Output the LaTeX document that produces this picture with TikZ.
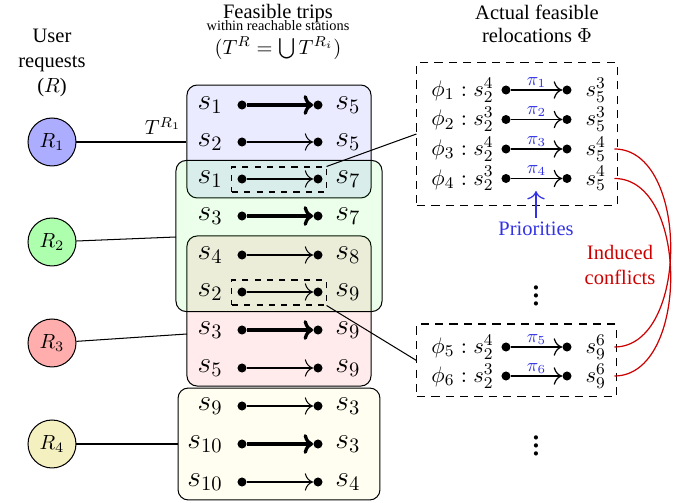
\documentclass[tikz,border=0pt]{standalone}
\usepackage[no-math]{fontspec}
\setmainfont{Liberation Serif}
\usetikzlibrary{calc,arrows.meta}

\definecolor{prioblue}{rgb}{0.2,0.2,0.9}
\definecolor{conflred}{rgb}{0.8,0,0}
\definecolor{reqyellow}{rgb}{0.96,0.94,0.75}

\tikzset{
  req/.style={circle,draw,line width=0.5pt,minimum size=23.4pt,inner sep=0pt},
  tripbox/.style={draw,line width=0.5pt,rounded corners=5pt,inner sep=0pt,fill opacity=0.08,draw opacity=1},
  selbox/.style={draw,dashed,line width=0.5pt,inner sep=0pt},
  relbox/.style={draw,dash pattern=on 4pt off 3pt,line width=0.5pt,inner sep=0pt},
  dot/.style={circle,fill,inner sep=0pt,minimum size=4.4pt},
  slab/.style={inner sep=1pt,font=\fontsize{14.4}{17}\selectfont},
  plab/.style={inner sep=1pt,font=\fontsize{11}{13}\selectfont},
  pilab/.style={above,inner sep=1pt,text=prioblue,font=\fontsize{9}{11}\selectfont},
  tripheavy/.style={line width=1.6pt,-{To[scale=0.9]}},
  triplight/.style={line width=0.5pt,-{To[scale=1.5]}},
  relarrow/.style={line width=0.6pt,-{To[scale=1.4]}},
  link/.style={line width=0.5pt},
  conflict/.style={conflred,line width=0.6pt},
}

\begin{document}
\begin{tikzpicture}[x=0.4878pt,y=-0.4878pt]
\useasboundingbox (0,0) rectangle (686,503);

% column headings
\node[align=center,font=\fontsize{10}{12}\selectfont] (hreq) at (52,63) {User\\requests\\($R$)};
\node (htripsA) at (278,14) {Feasible trips};
\node[font=\scriptsize] (htripsB) at (278,26) {within reachable stations};
\node (htripsC) at (278,48) {$(T^R=\bigcup T^{R_i})$};
\node (hrelA) at (537,12) {Actual feasible};
\node (hrelB) at (537,35) {relocations $\Phi$};

% user requests
\node[req,fill=blue!32] (R1) at (52,142) {$R_1$};
\node[req,fill=green!32] (R2) at (52,242) {$R_2$};
\node[req,fill=red!32] (R3) at (52,343) {$R_3$};
\node[req,fill=reqyellow] (R4) at (52,444) {$R_4$};

% sets of feasible trips, one per request
\node[tripbox,fill=blue,minimum width=89.8pt,minimum height=55.1pt] (box1) at (279,141.5) {};
\node[tripbox,fill=red,minimum width=89.8pt,minimum height=73.2pt] (box3) at (279,311) {};
\node[tripbox,fill=yellow,fill opacity=0.06,minimum width=98.5pt,minimum height=54.6pt] (box4) at (279,444) {};
\node[tripbox,fill=green,minimum width=100.5pt,minimum height=73.7pt] (box2) at (279,236) {};

% selected trips
\node[selbox,minimum width=45.9pt,minimum height=12.2pt] (sel1) at (279,179.5) {};
\node[selbox,minimum width=45.9pt,minimum height=12.2pt] (sel2) at (279,292.5) {};

% trips
\foreach \n/\y/\a/\b/\w in {1/105/1/5/tripheavy, 2/142/2/5/triplight, 3/179/1/7/triplight,
    4/216/3/7/tripheavy, 5/255/4/8/triplight, 6/292/2/9/triplight, 7/330/3/9/tripheavy,
    8/368/5/9/triplight, 9/406/9/3/triplight, 10/444/10/3/tripheavy, 11/482/10/4/triplight} {
  \node[slab,anchor=east] (tl\n) at (225,\y) {$s_{\a}$};
  \node[dot] (ta\n) at (242,\y) {};
  \node[dot] (tb\n) at (318,\y) {};
  \node[slab,anchor=west] (tr\n) at (333,\y) {$s_{\b}$};
  \draw[\w] (ta\n) -- (tb\n);
}

% request to trip-set links
\coordinate (in2) at (176,237);
\coordinate (in3) at (187,334);
\draw[link] (R1) -- (R1 -| box1.west);
\draw[link] (R2) -- (in2);
\draw[link] (R3) -- (in3);
\draw[link] (R4) -- (R4 -| box4.west);
\node (tr1lab) at (163,126) {$T^{R_1}$};

% actual feasible relocations
\node[relbox,minimum width=97.6pt,minimum height=69.3pt] (rel1) at (517,134) {};
\node[relbox,minimum width=97.1pt,minimum height=35.6pt] (rel2) at (516.5,360.5) {};

\foreach \n/\y/\u/\d/\v in {1/90/4/5/3, 2/119.5/3/5/3, 3/149/4/5/4, 4/178.5/3/5/4, 5/347/4/9/6, 6/376/3/9/6} {
  \node[plab,anchor=east] (pl\n) at (496,\y) {$\phi_{\n}:s_2^{\u}$};
  \node[dot] (pa\n) at (506,\y) {};
  \node[dot] (pb\n) at (567,\y) {};
  \node[plab,anchor=west,inner sep=4pt] (pr\n) at (577,\y) {$s_{\d}^{\v}$};
  \draw[relarrow] (pa\n) -- node[pilab] {$\pi_{\n}$} (pb\n);
}

% links from the selected trips to their relocations
\draw[link] (sel1.north east) -- (rel1.west);
\draw[link] (sel2.south east) -- (rel2.west);

% more relocations
\node[font=\LARGE] (more1) at (536,290) {$\vdots$};
\node[font=\LARGE] (more2) at (536,440) {$\vdots$};

% priorities
\node[text=prioblue,inner sep=2pt] (prio) at (536,229) {Priorities};
\coordinate (priotip) at (536,191);
\draw[prioblue,line width=0.6pt,-{To[scale=1.4]}] (prio.north) -- (priotip);

% induced conflicts
\node[text=conflred,align=center,font=\fontsize{10}{12}\selectfont] (conf) at (620,265) {Induced\\conflicts};
\draw[conflict] (pr3.east) .. controls +(75,0) and +(75,0) .. (pr5.east);
\draw[conflict] (pr4.east) .. controls +(75,0) and +(75,0) .. (pr6.east);
\end{tikzpicture}
\end{document}
